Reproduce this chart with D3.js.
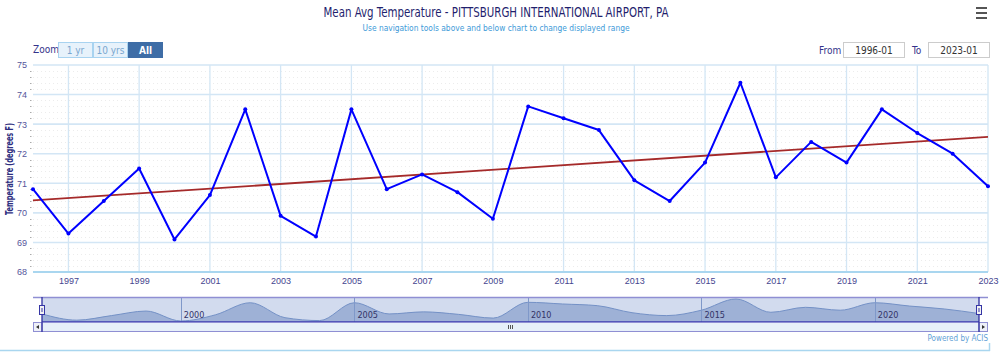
<!DOCTYPE html>
<html><head><meta charset="utf-8">
<script src="https://cdn.jsdelivr.net/npm/d3@7"></script>
<style>
html,body{margin:0;padding:0;background:#fff;}
svg{display:block;font-family:"Liberation Sans Narrow","DejaVu Sans Condensed","Liberation Sans",sans-serif;}
</style></head><body>
<svg id="c" width="1000" height="355"></svg>
<script>
const years = [1996,1997,1998,1999,2000,2001,2002,2003,2004,2005,2006,2007,2008,2009,2010,2011,2012,2013,2014,2015,2016,2017,2018,2019,2020,2021,2022,2023];
const temps = [70.8,69.3,70.4,71.5,69.1,70.6,73.5,69.9,69.2,73.5,70.8,71.3,70.7,69.8,73.6,73.2,72.8,71.1,70.4,71.7,74.4,71.2,72.4,71.7,73.5,72.7,72.0,70.9];
const trendYears = [1996,2023];
const trendVals = [70.42,72.57];
const xTickYears = [1997,1999,2001,2003,2005,2007,2009,2011,2013,2015,2017,2019,2021,2023];
const yTicks = [68,69,70,71,72,73,74,75];
const navTickYears = [2000,2005,2010,2015,2020];
const zoomButtons = ["1 yr","10 yrs","All"];
const fromLabel = "1996-01", toLabel = "2023-01";

const svg = d3.select("#c");
const date = y => new Date(y,0,1);
const x = d3.scaleTime().domain([date(1996),date(2023)]).range([33,988]);
const y = d3.scaleLinear().domain([68,75]).range([272,65]);

// title
svg.append("text").attr("x",496).attr("y",17).attr("text-anchor","middle")
  .attr("font-size",14).attr("fill","#1f1f6e").attr("textLength",345).attr("lengthAdjust","spacingAndGlyphs")
  .text("Mean Avg Temperature - PITTSBURGH INTERNATIONAL AIRPORT, PA");
svg.append("text").attr("x",496).attr("y",31).attr("text-anchor","middle")
  .attr("font-size",9.5).attr("fill","#3d9ad8").attr("textLength",267).attr("lengthAdjust","spacingAndGlyphs")
  .text("Use navigation tools above and below chart to change displayed range");
// menu icon
[0,5,10].forEach(d=>svg.append("rect").attr("x",976).attr("y",7+d).attr("width",11).attr("height",2).attr("fill","#555"));

// zoom buttons
svg.append("text").attr("x",33).attr("y",53).attr("font-size",10).attr("fill","#33338a").text("Zoom");
const bx = d3.scaleBand().domain(zoomButtons).range([58,163]);
zoomButtons.forEach(b=>{
  const sel = b==="All";
  svg.append("rect").attr("x",bx(b)+0.5).attr("y",42.5).attr("width",bx.bandwidth()-1).attr("height",15)
    .attr("fill",sel?"#3e6da6":"#e7f2fb").attr("stroke",sel?"#3e6da6":"#a8d3f0").attr("stroke-width",1);
  svg.append("text").attr("x",bx(b)+bx.bandwidth()/2).attr("y",54).attr("text-anchor","middle")
    .attr("font-size",10).attr("font-weight",sel?"bold":"normal").attr("fill",sel?"#fff":"#7aa7cf").text(b);
});
// from / to
svg.append("text").attr("x",819).attr("y",54).attr("font-size",10).attr("fill","#33338a").text("From");
svg.append("rect").attr("x",843.5).attr("y",42.5).attr("width",61).attr("height",15).attr("fill","#fff").attr("stroke","#ccc");
svg.append("text").attr("x",874).attr("y",54).attr("text-anchor","middle").attr("font-size",10).attr("fill","#333").text(fromLabel);
svg.append("text").attr("x",912).attr("y",54).attr("font-size",10).attr("fill","#33338a").text("To");
svg.append("rect").attr("x",928.5).attr("y",42.5).attr("width",61).attr("height",15).attr("fill","#fff").attr("stroke","#ccc");
svg.append("text").attr("x",959).attr("y",54).attr("text-anchor","middle").attr("font-size",10).attr("fill","#333").text(toLabel);

// minor grid
const minor = d3.range(68,75.001,0.2).filter(v=>Math.abs(v-Math.round(v))>0.01);
svg.append("g").selectAll("line").data(minor).join("line")
  .attr("x1",33).attr("x2",988).attr("y1",d=>Math.round(y(d))+0.5).attr("y2",d=>Math.round(y(d))+0.5)
  .attr("stroke","#ececec").attr("stroke-dasharray","1,3");
svg.append("g").selectAll("line").data(minor).join("line")
  .attr("x1",30).attr("x2",31.5).attr("y1",d=>Math.round(y(d))+0.5).attr("y2",d=>Math.round(y(d))+0.5)
  .attr("stroke","#aaa");
// major horizontal grid
svg.append("g").selectAll("line").data(yTicks.filter(v=>v>68)).join("line")
  .attr("x1",33).attr("x2",988).attr("y1",d=>y(d)).attr("y2",d=>y(d))
  .attr("stroke","#d3e6f5").attr("stroke-width",1.6);
// vertical grid
svg.append("g").selectAll("line").data(xTickYears).join("line")
  .attr("x1",d=>x(date(d))).attr("x2",d=>x(date(d))).attr("y1",65).attr("y2",272)
  .attr("stroke","#d3e6f5").attr("stroke-width",1.3);
// x axis line
svg.append("line").attr("x1",33).attr("x2",988).attr("y1",272).attr("y2",272).attr("stroke","#a9d6ef").attr("stroke-width",2);

// y axis labels
const yAxis = d3.axisLeft(y).tickValues(yTicks).tickSize(0).tickPadding(0).tickFormat(d3.format("d"));
const ya = svg.append("g").attr("transform","translate(27,0)").call(yAxis);
ya.select(".domain").remove();
ya.selectAll("text").attr("font-size",9).attr("fill","#55559b").attr("font-family",null).attr("dy","0.32em");
ya.selectAll("line").remove();
svg.append("text").attr("transform","translate(13,169) rotate(-90)").attr("text-anchor","middle")
  .attr("font-size",10.5).attr("font-weight","bold").attr("fill","#2d2d80").attr("textLength",92).attr("lengthAdjust","spacingAndGlyphs")
  .text("Temperature (degrees F)");

// x axis labels
const xAxis = d3.axisBottom(x).tickValues(xTickYears.map(date)).tickSize(0).tickPadding(0).tickFormat(d3.timeFormat("%Y"));
const xa = svg.append("g").attr("transform","translate(0,278)").call(xAxis);
xa.select(".domain").remove();
xa.selectAll("text").attr("font-size",9).attr("fill","#45458f").attr("font-family",null).attr("dy","0.71em");

// trend line
svg.append("path").datum(trendYears.map((d,i)=>[d,trendVals[i]]))
  .attr("d",d3.line().x(d=>x(date(d[0]))).y(d=>y(d[1])))
  .attr("fill","none").attr("stroke","#a52a2a").attr("stroke-width",1.8);
// series
const data = years.map((d,i)=>[d,temps[i]]);
svg.append("path").datum(data).attr("d",d3.line().x(d=>x(date(d[0]))).y(d=>y(d[1])))
  .attr("fill","none").attr("stroke","#0000ff").attr("stroke-width",2).attr("stroke-linejoin","round");
svg.append("g").selectAll("circle").data(data).join("circle")
  .attr("cx",d=>x(date(d[0]))).attr("cy",d=>y(d[1])).attr("r",2).attr("fill","#0000ff");

// navigator
const nx = d3.scaleTime().domain([date(1996),date(2023)]).range([42,979]);
const ny = d3.scaleLinear().domain([d3.min(temps),d3.max(temps)]).range([321,299]);
svg.append("rect").attr("x",42).attr("y",297).attr("width",937).attr("height",25).attr("fill","#d2dbee");
svg.append("path").datum(data)
  .attr("d",d3.area().x(d=>nx(date(d[0]))).y0(322).y1(d=>ny(d[1])).curve(d3.curveMonotoneX))
  .attr("fill","#9eb1d6");
svg.append("path").datum(data)
  .attr("d",d3.line().x(d=>nx(date(d[0]))).y(d=>ny(d[1])).curve(d3.curveMonotoneX))
  .attr("fill","none").attr("stroke","#7491c6").attr("stroke-width",1);
svg.append("g").selectAll("line").data(navTickYears).join("line")
  .attr("x1",d=>Math.round(nx(date(d)))+0.5).attr("x2",d=>Math.round(nx(date(d)))+0.5).attr("y1",297).attr("y2",322)
  .attr("stroke","#7f98c9").attr("stroke-width",1);
svg.append("g").selectAll("text").data(navTickYears).join("text")
  .attr("x",d=>nx(date(d))+3).attr("y",318).attr("font-size",9).attr("fill","#333366").text(d=>d);
// outline
svg.append("line").attr("x1",33).attr("x2",988).attr("y1",297.5).attr("y2",297.5).attr("stroke","#8f8fd3").attr("stroke-width",1.5);
svg.append("line").attr("x1",42).attr("x2",979).attr("y1",322).attr("y2",322).attr("stroke","#3a3ab0").attr("stroke-width",1.5);
// scrollbar
svg.append("rect").attr("x",33.5).attr("y",322.5).attr("width",954).attr("height",9).attr("fill","#e6eff9").attr("stroke","#8f8fd3");
svg.append("rect").attr("x",33.5).attr("y",322.5).attr("width",8.5).attr("height",9).attr("fill","#eef0f8").attr("stroke","#8f8fd3");
svg.append("rect").attr("x",979).attr("y",322.5).attr("width",8.5).attr("height",9).attr("fill","#eef0f8").attr("stroke","#8f8fd3");
svg.append("path").attr("d","M39,325 L36,327 L39,329 Z").attr("fill","#333");
svg.append("path").attr("d","M982,325 L985,327 L982,329 Z").attr("fill","#333");
[-2,0,2].forEach(o=>svg.append("line").attr("x1",510.5+o).attr("x2",510.5+o).attr("y1",325).attr("y2",329).attr("stroke","#555"));
// handles
[42,979].forEach(hx=>{
  svg.append("line").attr("x1",hx).attr("x2",hx).attr("y1",297).attr("y2",332).attr("stroke","#2f2fa0").attr("stroke-width",1.3);
  svg.append("rect").attr("x",hx-2.5).attr("y",305.5).attr("width",5).attr("height",9).attr("fill","#f2f2f2").attr("stroke","#3535a5").attr("stroke-width",1);
  svg.append("line").attr("x1",hx).attr("x2",hx).attr("y1",308).attr("y2",312).attr("stroke","#3535a5");
});
// credits and border
svg.append("text").attr("x",988).attr("y",341).attr("text-anchor","end").attr("font-size",8).attr("fill","#5f9fd6").text("Powered by ACIS");
svg.append("line").attr("x1",0).attr("x2",990).attr("y1",350.5).attr("y2",350.5).attr("stroke","#a9d6ef").attr("stroke-width",1.5);
svg.append("line").attr("x1",989.5).attr("x2",989.5).attr("y1",343).attr("y2",351).attr("stroke","#a9d6ef").attr("stroke-width",1.5);
</script>
</body></html>
